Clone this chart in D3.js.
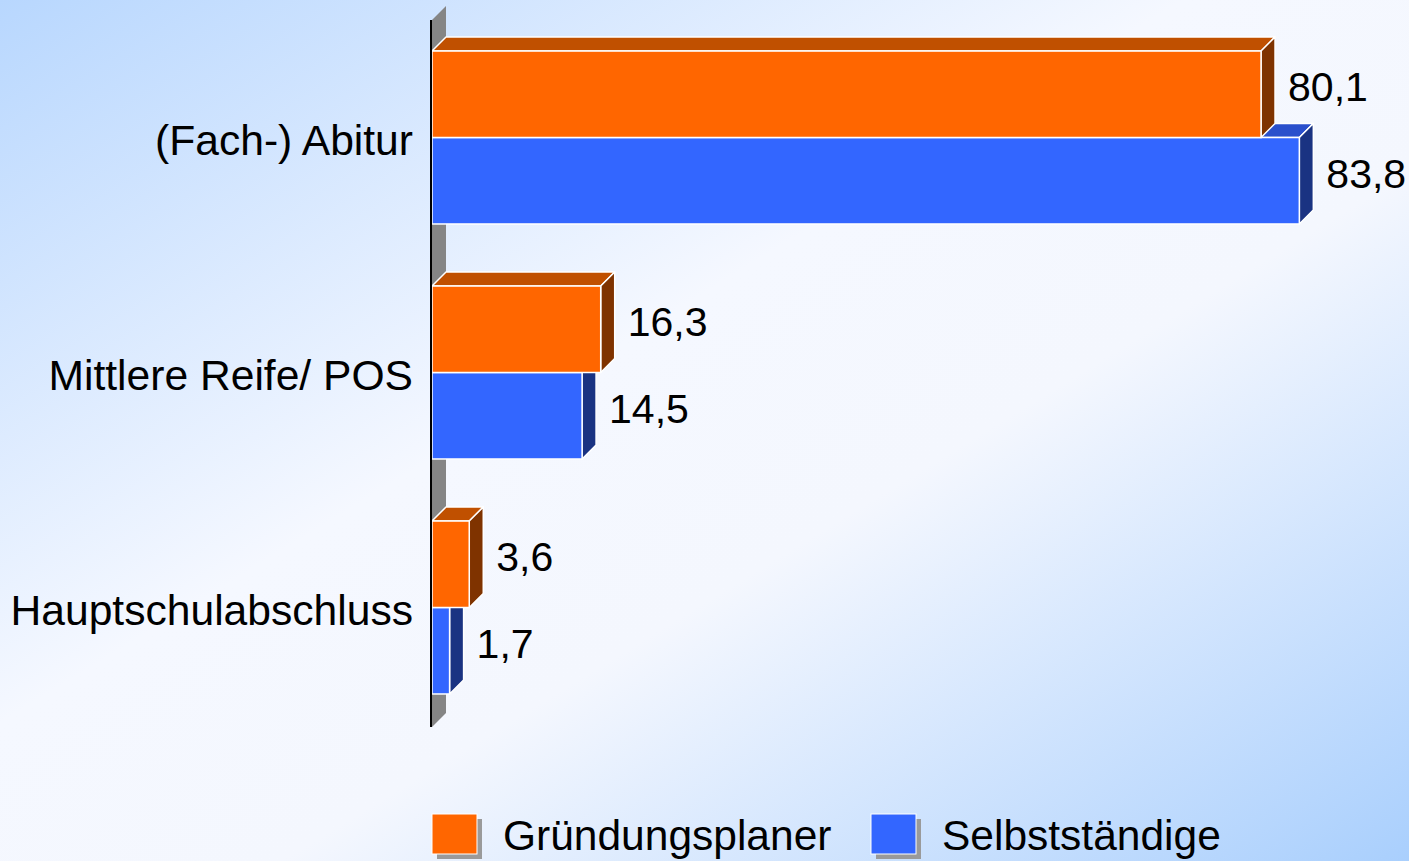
<!DOCTYPE html>
<html>
<head>
<meta charset="utf-8">
<title>Schulabschluss</title>
<script src="https://d3js.org/d3.v7.min.js"></script>
<style>
  body { margin: 0; background: #fff; }
  svg text { font-family: 'Liberation Sans', Arial, sans-serif; fill: #000; }
</style>
</head>
<body>
<div id="chart"></div>
<script>
var categories = ['(Fach-) Abitur', 'Mittlere Reife/ POS', 'Hauptschulabschluss'];
var seriesNames = ['Gründungsplaner', 'Selbstständige'];
var gruendungsplaner = [80.1, 16.3, 3.6];
var selbststaendige = [83.8, 14.5, 1.7];
var labelFormat = function(v) { return d3.format('.1f')(v).replace('.', ','); };

var width = 1409, height = 861;
var depth = 14;

var faceColors = {
  'Gründungsplaner': { front: '#ff6600', top: '#c05000', side: '#7f3300' },
  'Selbstständige': { front: '#3366ff', top: '#2a50cc', side: '#1a3382' }
};

var svg = d3.select('#chart').append('svg')
  .attr('width', width)
  .attr('height', height);

// background gradient
var defs = svg.append('defs');
var grad = defs.append('linearGradient')
  .attr('id', 'bg')
  .attr('x1', 0).attr('y1', 0).attr('x2', 1).attr('y2', 1);
grad.append('stop').attr('offset', '0').attr('stop-color', '#b8d7fe');
grad.append('stop').attr('offset', '0.42').attr('stop-color', '#f5f8ff');
grad.append('stop').attr('offset', '0.6').attr('stop-color', '#f4f7fe');
grad.append('stop').attr('offset', '1').attr('stop-color', '#a9cffd');

svg.append('rect')
  .attr('width', width).attr('height', height)
  .attr('fill', 'url(#bg)');

var x = d3.scaleLinear().domain([0, 100]).range([432, 1467]);
var y = d3.scaleBand().domain(categories).range([20, 725])
  .paddingInner(0.264).paddingOuter(0.132);
var ySub = d3.scaleBand().domain(seriesNames).range([0, y.bandwidth()]);

// back wall (gray) behind the category axis
var wallTop = y.range()[0], wallBottom = 727;
svg.append('path')
  .attr('d', 'M' + x(0) + ',' + wallTop + 'L' + (x(0) + depth) + ',' + (wallTop - depth) +
        'L' + (x(0) + depth) + ',' + (wallBottom - depth) + 'L' + x(0) + ',' + wallBottom + 'Z')
  .attr('fill', '#858585');

// bars: draw Selbstständige first so the orange bars sit on top
var rows = [];
categories.forEach(function(c, i) {
  rows.push({ cat: c, series: 'Selbstständige', value: selbststaendige[i] });
});
categories.forEach(function(c, i) {
  rows.push({ cat: c, series: 'Gründungsplaner', value: gruendungsplaner[i] });
});

var bars = svg.append('g').selectAll('g.bar')
  .data(rows)
  .enter().append('g').attr('class', 'bar');

bars.each(function(d) {
  var g = d3.select(this);
  var x0 = x(0), x1 = x(d.value);
  var y0 = y(d.cat) + ySub(d.series), y1 = y0 + ySub.bandwidth();
  var col = faceColors[d.series];

  g.append('path')
    .attr('d', 'M' + x0 + ',' + y0 + 'L' + (x0 + depth) + ',' + (y0 - depth) +
          'L' + (x1 + depth) + ',' + (y0 - depth) + 'L' + x1 + ',' + y0 + 'Z')
    .attr('fill', col.top).attr('stroke', '#fff').attr('stroke-width', 1.5)
    .attr('stroke-linejoin', 'round');
  g.append('path')
    .attr('d', 'M' + x1 + ',' + y0 + 'L' + (x1 + depth) + ',' + (y0 - depth) +
          'L' + (x1 + depth) + ',' + (y1 - depth) + 'L' + x1 + ',' + y1 + 'Z')
    .attr('fill', col.side).attr('stroke', '#fff').attr('stroke-width', 1.5)
    .attr('stroke-linejoin', 'round');
  g.append('rect')
    .attr('x', x0).attr('y', y0)
    .attr('width', x1 - x0).attr('height', y1 - y0)
    .attr('fill', col.front).attr('stroke', '#fff').attr('stroke-width', 1.5);
});

// value labels
svg.append('g').selectAll('text')
  .data(rows)
  .enter().append('text')
  .attr('x', function(d) { return x(d.value) + depth + 13; })
  .attr('y', function(d) { return y(d.cat) + ySub(d.series) + ySub.bandwidth() / 2 + 7; })
  .style('font-size', '41px')
  .text(function(d) { return labelFormat(d.value); });

// axis line
svg.append('line')
  .attr('x1', x(0) - 1).attr('x2', x(0) - 1)
  .attr('y1', wallTop).attr('y2', wallBottom)
  .attr('stroke', '#000').attr('stroke-width', 2);

// category labels
svg.append('g').selectAll('text')
  .data(categories)
  .enter().append('text')
  .attr('x', 413)
  .attr('y', function(d) { return y(d) + y.bandwidth() / 2 + 17; })
  .attr('text-anchor', 'end')
  .style('font-size', '42.6px')
  .text(function(d) { return d; });

// legend
var legendX = [432, 871];
var legend = svg.append('g').selectAll('g')
  .data(seriesNames)
  .enter().append('g')
  .attr('transform', function(d, i) { return 'translate(' + legendX[i] + ',814)'; });

legend.append('rect')
  .attr('x', 5).attr('y', 5).attr('width', 45).attr('height', 40)
  .attr('fill', '#9a9a9a');
legend.append('rect')
  .attr('width', 45).attr('height', 40)
  .attr('fill', function(d) { return faceColors[d].front; })
  .attr('stroke', '#fff').attr('stroke-width', 1);
legend.append('text')
  .attr('x', 71).attr('y', 36)
  .style('font-size', '42.5px')
  .text(function(d) { return d; });
</script>
</body>
</html>
